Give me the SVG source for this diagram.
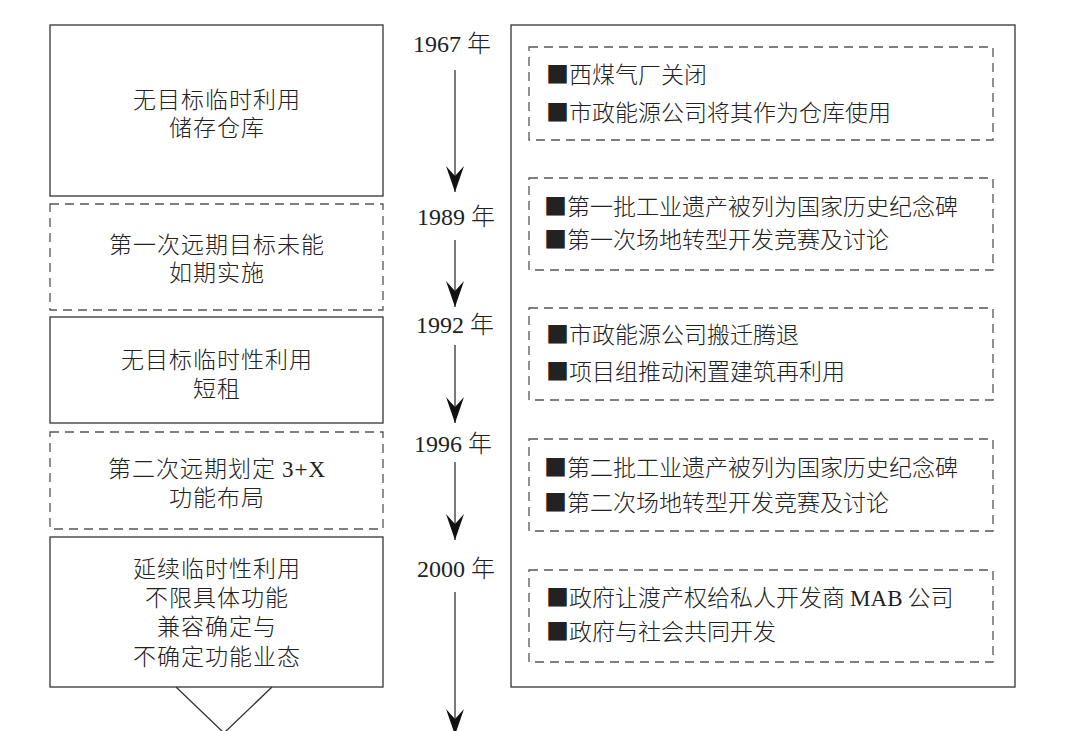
<svg xmlns="http://www.w3.org/2000/svg" width="1080" height="731" viewBox="0 0 1080 731">
<style>
.solid{fill:#fff;stroke:#333;stroke-width:1.3}
.dash{fill:none;stroke:#555;stroke-width:1.3;stroke-dasharray:9 6}
.t{font-family:"Liberation Serif","Noto Sans CJK SC",serif;fill:#222;font-size:23px;letter-spacing:1px;text-anchor:middle}
.yr{font-family:"Liberation Serif","Noto Sans CJK SC",serif;fill:#222;font-size:24px;text-anchor:middle}
.r{font-family:"Liberation Serif","Noto Sans CJK SC",serif;fill:#222;font-size:23px}
.cj{font-family:"Noto Sans CJK SC",sans-serif;font-weight:300}
.ln{stroke:#333;stroke-width:1.3;fill:none}
</style>
<defs>
<marker id="ah" viewBox="0 0 26 18" refX="26" refY="9" markerWidth="26" markerHeight="18" markerUnits="userSpaceOnUse" orient="auto">
<path d="M0,0 L10,9 L0,18 L26,9 Z" fill="#111"/>
</marker>
</defs>
<rect width="1080" height="731" fill="#fff"/>

<g id="node-1">
<rect class="solid" x="50" y="25" width="333" height="171"/>
<text class="t cj" x="217" y="108">无目标临时利用</text>
<text class="t cj" x="217" y="136">储存仓库</text>
</g>
<g id="node-2">
<rect class="dash" x="50" y="204" width="333" height="106"/>
<text class="t cj" x="217" y="253">第一次远期目标未能</text>
<text class="t cj" x="217" y="281">如期实施</text>
</g>
<g id="node-3">
<rect class="solid" x="50" y="317" width="333" height="106"/>
<text class="t cj" x="217" y="368">无目标临时性利用</text>
<text class="t cj" x="217" y="397">短租</text>
</g>
<g id="node-4">
<rect class="dash" x="50" y="432" width="333" height="97"/>
<text class="t" x="217" y="477"><tspan class="cj">第二次远期划定 </tspan>3+X</text>
<text class="t cj" x="217" y="506">功能布局</text>
</g>
<g id="node-5">
<rect class="solid" x="50" y="537" width="333" height="150"/>
<text class="t cj" x="217" y="577">延续临时性利用</text>
<text class="t cj" x="217" y="606">不限具体功能</text>
<text class="t cj" x="217" y="635">兼容确定与</text>
<text class="t cj" x="217" y="665">不确定功能业态</text>
</g>
<g id="funnel">
<polyline class="ln" points="176,687 224,733 272,687"/>
</g>

<g id="years">
<text class="yr" x="452" y="52">1967 <tspan class="cj">年</tspan></text>
<text class="yr" x="456" y="225">1989 <tspan class="cj">年</tspan></text>
<text class="yr" x="455" y="333">1992 <tspan class="cj">年</tspan></text>
<text class="yr" x="453" y="452">1996 <tspan class="cj">年</tspan></text>
<text class="yr" x="456" y="577">2000 <tspan class="cj">年</tspan></text>
</g>

<g id="connectors">
<line class="ln" x1="455" y1="70" x2="455" y2="192" marker-end="url(#ah)"/>
<line class="ln" x1="455" y1="240" x2="455" y2="307" marker-end="url(#ah)"/>
<line class="ln" x1="455" y1="345" x2="455" y2="423" marker-end="url(#ah)"/>
<line class="ln" x1="455" y1="462" x2="455" y2="540" marker-end="url(#ah)"/>
<line class="ln" x1="455" y1="592" x2="455" y2="735" marker-end="url(#ah)"/>
</g>

<g id="events">
<rect class="solid" x="511" y="25" width="504" height="662" fill="none"/>
<g id="event-1">
<rect class="dash" x="529" y="47" width="464" height="93"/>
<text class="r cj" x="546" y="83">■西煤气厂关闭</text>
<text class="r cj" x="546" y="121">■市政能源公司将其作为仓库使用</text>
</g>
<g id="event-2">
<rect class="dash" x="529" y="178" width="464" height="92"/>
<text class="r cj" x="544" y="215">■第一批工业遗产被列为国家历史纪念碑</text>
<text class="r cj" x="544" y="248">■第一次场地转型开发竞赛及讨论</text>
</g>
<g id="event-3">
<rect class="dash" x="529" y="308" width="464" height="92"/>
<text class="r cj" x="546" y="343">■市政能源公司搬迁腾退</text>
<text class="r cj" x="546" y="380">■项目组推动闲置建筑再利用</text>
</g>
<g id="event-4">
<rect class="dash" x="529" y="439" width="464" height="92"/>
<text class="r cj" x="544" y="476">■第二批工业遗产被列为国家历史纪念碑</text>
<text class="r cj" x="544" y="511">■第二次场地转型开发竞赛及讨论</text>
</g>
<g id="event-5">
<rect class="dash" x="529" y="570" width="464" height="92"/>
<text class="r" x="546" y="606"><tspan class="cj">■政府让渡产权给私人开发商 </tspan>MAB<tspan class="cj"> 公司</tspan></text>
<text class="r cj" x="546" y="640">■政府与社会共同开发</text>
</g>
</g>
</svg>
